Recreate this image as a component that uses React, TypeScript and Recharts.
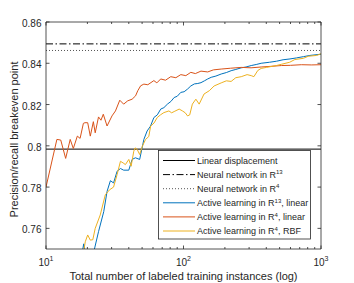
import React from 'react';
import { LineChart, Line, XAxis, YAxis } from 'recharts';

// ---- axes ----
const X_DOMAIN: [number, number] = [10, 1000];
const Y_DOMAIN: [number, number] = [0.75, 0.86];
const X_TICKS = [10, 20, 30, 40, 50, 60, 70, 80, 90, 100, 200, 300, 400, 500, 600, 700, 800, 900, 1000];
const Y_TICKS = [0.76, 0.78, 0.8, 0.82, 0.84, 0.86];
const X_LABEL = 'Total number of labeled training instances (log)';
const Y_LABEL = 'Precision/recall breakeven point';

// ---- constant baselines ----
const LINEAR_DISPLACEMENT = 0.7984;
const NN_R13 = 0.8494;
const NN_R4 = 0.8462;

// ---- Active learning in R^13, linear (blue) ----
const BLUE_X = [18.0, 18.8, 19.5, 21.5, 22.6, 24.1, 26.3, 27.8, 29.4, 31.0, 32.9, 34.8, 36.7, 40.0, 42.3, 44.7, 48.0, 51.5, 54.4, 57.5, 60.9, 64.5, 68.3, 72, 76.4, 81, 85.5, 90, 95.6, 101, 107, 113, 120, 127, 134, 142, 150, 159, 172, 188, 205, 222, 240, 263, 285, 311, 338, 367, 423, 475, 530, 595, 663, 745, 830, 1000];
const BLUE_Y = [0.745, 0.7525, 0.746, 0.745, 0.7505, 0.7584, 0.7681, 0.7779, 0.7831, 0.7820, 0.7877, 0.7890, 0.7882, 0.7882, 0.7934, 0.7942, 0.7934, 0.8031, 0.8072, 0.8095, 0.8137, 0.8150, 0.8178, 0.8185, 0.8202, 0.8215, 0.8234, 0.8240, 0.8259, 0.8262, 0.8275, 0.8290, 0.8300, 0.8302, 0.8306, 0.8315, 0.8324, 0.8332, 0.8338, 0.8348, 0.8355, 0.8364, 0.8370, 0.8378, 0.8382, 0.8389, 0.8394, 0.8400, 0.8405, 0.8410, 0.8417, 0.8421, 0.8426, 0.8432, 0.8438, 0.8444];

// ---- Active learning in R^4, linear (red) ----
const RED_X = [10, 12.0, 12.8, 13.9, 15.0, 15.8, 16.9, 17.7, 18.7, 19.2, 20.1, 21.0, 22.1, 22.8, 24.1, 25.1, 26.1, 27.8, 30.2, 32.0, 34.4, 36.7, 39.3, 42.3, 44.8, 46.5, 48.8, 51.5, 55, 60.9, 64, 68.3, 74, 80.8, 88, 95.6, 104, 113, 122, 134, 150, 165, 188, 220, 263, 310, 367, 430, 515, 600, 720, 850, 1000];
const RED_Y = [0.780, 0.8031, 0.8028, 0.7939, 0.8031, 0.7987, 0.8047, 0.8036, 0.8109, 0.8112, 0.8112, 0.8047, 0.8117, 0.8063, 0.8140, 0.8124, 0.8153, 0.8096, 0.8145, 0.8169, 0.8221, 0.8202, 0.8218, 0.8226, 0.8242, 0.8267, 0.8291, 0.8299, 0.8296, 0.8316, 0.8305, 0.8324, 0.8318, 0.8335, 0.8330, 0.8345, 0.8340, 0.8356, 0.8350, 0.8362, 0.8358, 0.8368, 0.8372, 0.8376, 0.8380, 0.8378, 0.8382, 0.8385, 0.8389, 0.8390, 0.8393, 0.8392, 0.8393];

// ---- Active learning in R^4, RBF (yellow) ----
const YELLOW_X = [18.5, 19.3, 20.1, 21.0, 21.9, 22.8, 24.8, 27.0, 29.0, 31.0, 32.9, 34.8, 36.4, 37.8, 40.0, 41.6, 43.5, 44.5, 46.1, 48.0, 50.3, 53.0, 55.9, 57.7, 61, 64.4, 68, 72.0, 78.3, 82, 85.5, 93, 98.3, 103, 107, 111, 116, 123, 130, 141, 154, 167, 188, 205, 222, 240, 263, 290, 311, 325, 347, 367, 401, 474, 515, 592, 645, 744, 808, 930, 1000];
const YELLOW_Y = [0.746, 0.7535, 0.7568, 0.7543, 0.7545, 0.7600, 0.7665, 0.7763, 0.7787, 0.7800, 0.7861, 0.7925, 0.7917, 0.7909, 0.7934, 0.7901, 0.7974, 0.7990, 0.7982, 0.7958, 0.7999, 0.8031, 0.8045, 0.8096, 0.8110, 0.8137, 0.8150, 0.8161, 0.8169, 0.8160, 0.8166, 0.8178, 0.8169, 0.8160, 0.8145, 0.8150, 0.8202, 0.8226, 0.8202, 0.8251, 0.8267, 0.8290, 0.8305, 0.8315, 0.8312, 0.8330, 0.8335, 0.8345, 0.8340, 0.8335, 0.8365, 0.8375, 0.8380, 0.8389, 0.8395, 0.8405, 0.8418, 0.8424, 0.8434, 0.8438, 0.8446];

// ---- legend ----
const LEGEND_LABELS: string[][] = [
  ['Linear displacement'],
  ['Neural network in R', '13'],
  ['Neural network in R', '4'],
  ['Active learning in R', '13', ', linear'],
  ['Active learning in R', '4', ', linear'],
  ['Active learning in R', '4', ', RBF'],
];

const BLUE = '#0072BD';
const RED = '#D95319';
const YELLOW = '#EDB120';
const AXIS_COLOR = '#262626';
const TEXT_COLOR = '#262626';
const FONT = "'Liberation Sans', Arial, Helvetica, sans-serif";

const LEGEND_STYLES = [
  { stroke: '#000', dash: undefined as string | undefined, width: 1 },
  { stroke: '#000', dash: '7 2.5 1.5 2.5', width: 1 },
  { stroke: '#555', dash: '1 2', width: 1 },
  { stroke: BLUE, dash: undefined, width: 1 },
  { stroke: RED, dash: undefined, width: 1 },
  { stroke: YELLOW, dash: undefined, width: 1 },
];

const zip = (xs: number[], ys: number[]) => xs.map((x, i) => ({ x, y: ys[i] }));
const hline = (v: number) => [{ x: X_DOMAIN[0], y: v }, { x: X_DOMAIN[1], y: v }];

const blueData = zip(BLUE_X, BLUE_Y);
const redData = zip(RED_X, RED_Y);
const yellowData = zip(YELLOW_X, YELLOW_Y);

const isMajor = (v: number) => {
  const e = Math.round(Math.log10(v));
  return Math.abs(Math.pow(10, e) - v) < 1e-6;
};

const BottomTick = (props: any) => {
  const { x, y, payload } = props;
  const v = payload.value;
  const major = isMajor(v);
  const exp = Math.round(Math.log10(v));
  return (
    <g>
      <line x1={x} x2={x} y1={y} y2={y - (major ? 3.5 : 2)} stroke={AXIS_COLOR} strokeWidth={0.8} />
      {major && (
        <text x={x} y={y + 16.7} textAnchor="middle" fontSize={10} fill={TEXT_COLOR} fontFamily={FONT}>
          10<tspan dy={-5} fontSize={7}>{exp}</tspan>
        </text>
      )}
    </g>
  );
};

const TopTick = (props: any) => {
  const { x, y, payload } = props;
  const major = isMajor(payload.value);
  return <line x1={x} x2={x} y1={y} y2={y + (major ? 3.5 : 2)} stroke={AXIS_COLOR} strokeWidth={0.8} />;
};

const LeftTick = (props: any) => {
  const { x, y, payload } = props;
  return (
    <g>
      <line x1={x} x2={x + 3.5} y1={y} y2={y} stroke={AXIS_COLOR} strokeWidth={0.8} />
      <text x={x - 4.5} y={y + 5} textAnchor="end" fontSize={10} fill={TEXT_COLOR} fontFamily={FONT}>
        {String(payload.value)}
      </text>
    </g>
  );
};

const RightTick = (props: any) => {
  const { x, y } = props;
  return <line x1={x} x2={x - 3.5} y1={y} y2={y} stroke={AXIS_COLOR} strokeWidth={0.8} />;
};

const YLabel = (props: any) => {
  const vb = props.viewBox || { x: 0, y: 22, width: 46, height: 227 };
  const cx = vb.x + 18;
  const cy = vb.y + vb.height / 2 + 4;
  return (
    <text transform={`translate(${cx},${cy}) rotate(-90)`} textAnchor="middle" fontSize={11} fill={TEXT_COLOR} fontFamily={FONT}>
      {Y_LABEL}
    </text>
  );
};

const XLabel = (props: any) => {
  const vb = props.viewBox || { x: 46, y: 249, width: 275, height: 34 };
  return (
    <text x={vb.x + vb.width / 2} y={vb.y + 31} textAnchor="middle" fontSize={11} fill={TEXT_COLOR} fontFamily={FONT}>
      {X_LABEL}
    </text>
  );
};

const LegendBox = () => {
  const w = 152.5;
  const h = 89;
  return (
    <svg width={w + 1} height={h + 1} style={{ position: 'absolute', left: 158, top: 150 }}>
      <rect x={0.5} y={0.5} width={w - 0.5} height={h - 0.5} fill="#fff" stroke={AXIS_COLOR} strokeWidth={0.8} />
      {LEGEND_LABELS.map((parts, i) => {
        const cy = 10.5 + i * 14.1;
        const st = LEGEND_STYLES[i];
        return (
          <g key={i}>
            <line x1={5} x2={37} y1={cy} y2={cy} stroke={st.stroke} strokeWidth={st.width} strokeDasharray={st.dash} />
            <text x={39} y={cy + 3.2} fontSize={9} fill={TEXT_COLOR} fontFamily={FONT}>
              {parts[0]}
              {parts[1] && <tspan dy={-3.5} fontSize={6}>{parts[1]}</tspan>}
              {parts[2] && <tspan dy={3.5}>{parts[2]}</tspan>}
            </text>
          </g>
        );
      })}
    </svg>
  );
};

export default function App() {
  return (
    <div style={{ position: 'absolute', left: 0, top: 0, width: 354, height: 283, background: '#fff' }}>
      <LineChart width={354} height={283} margin={{ top: 21, right: 32, bottom: 0, left: 0 }}>
        <XAxis
          xAxisId={0}
          dataKey="x"
          type="number"
          scale="log"
          domain={X_DOMAIN}
          allowDataOverflow
          ticks={X_TICKS}
          interval={0}
          height={34}
          tickSize={0}
          tickMargin={0}
          tickLine={false}
          axisLine={{ stroke: AXIS_COLOR, strokeWidth: 0.8 }}
          tick={<BottomTick />}
          label={<XLabel />}
        />
        <XAxis
          xAxisId="top"
          orientation="top"
          dataKey="x"
          type="number"
          scale="log"
          domain={X_DOMAIN}
          allowDataOverflow
          ticks={X_TICKS}
          interval={0}
          height={1}
          tickSize={0}
          tickMargin={0}
          tickLine={false}
          axisLine={{ stroke: AXIS_COLOR, strokeWidth: 0.8 }}
          tick={<TopTick />}
        />
        <YAxis
          yAxisId={0}
          type="number"
          domain={Y_DOMAIN}
          allowDataOverflow
          ticks={Y_TICKS}
          interval={0}
          width={46}
          tickSize={0}
          tickMargin={0}
          tickLine={false}
          axisLine={{ stroke: AXIS_COLOR, strokeWidth: 0.8 }}
          tick={<LeftTick />}
          label={<YLabel />}
        />
        <YAxis
          yAxisId="right"
          orientation="right"
          type="number"
          domain={Y_DOMAIN}
          allowDataOverflow
          ticks={Y_TICKS}
          interval={0}
          width={1}
          tickSize={0}
          tickMargin={0}
          tickLine={false}
          axisLine={{ stroke: AXIS_COLOR, strokeWidth: 0.8 }}
          tick={<RightTick />}
        />
        <Line data={hline(LINEAR_DISPLACEMENT)} dataKey="y" stroke="#000" strokeWidth={1} dot={false} activeDot={false} isAnimationActive={false} />
        <Line data={hline(NN_R13)} dataKey="y" stroke="#000" strokeWidth={1} strokeDasharray="7 2.5 1.5 2.5" dot={false} activeDot={false} isAnimationActive={false} />
        <Line data={hline(NN_R4)} dataKey="y" stroke="#555" strokeWidth={1} strokeDasharray="1 2" dot={false} activeDot={false} isAnimationActive={false} />
        <Line data={blueData} dataKey="y" stroke={BLUE} strokeWidth={1} dot={false} activeDot={false} isAnimationActive={false} />
        <Line data={redData} dataKey="y" stroke={RED} strokeWidth={1} dot={false} activeDot={false} isAnimationActive={false} />
        <Line data={yellowData} dataKey="y" stroke={YELLOW} strokeWidth={1} dot={false} activeDot={false} isAnimationActive={false} />
      </LineChart>
      <LegendBox />
    </div>
  );
}
